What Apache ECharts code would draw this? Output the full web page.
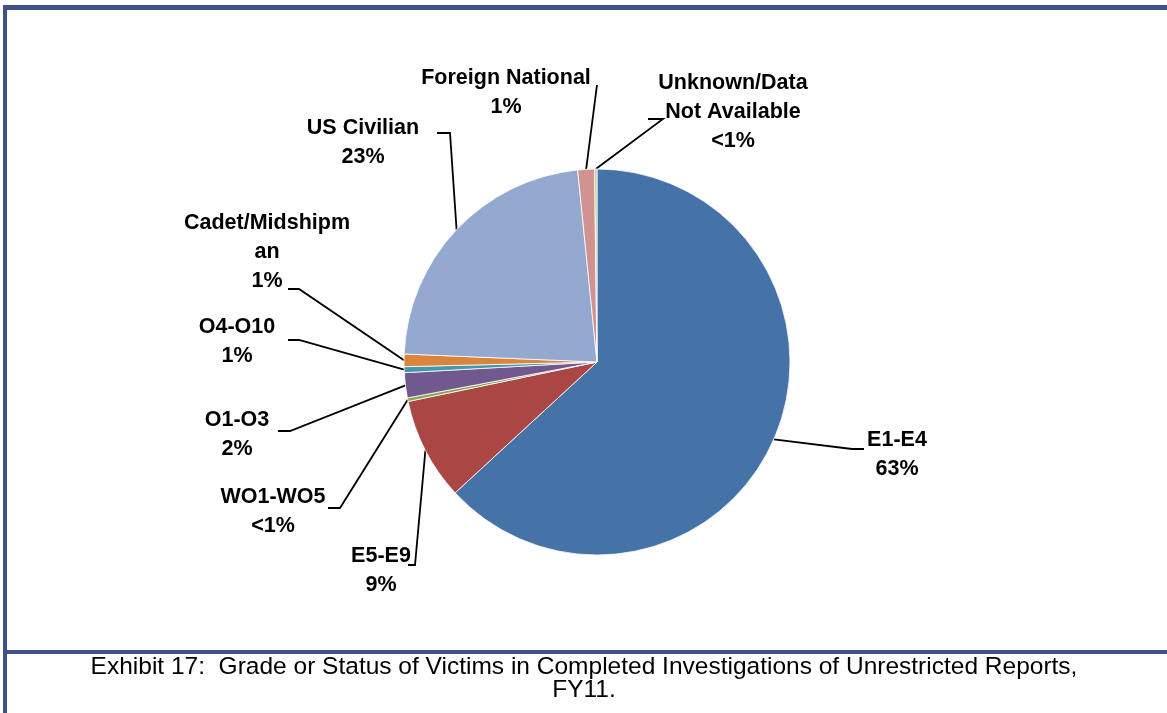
<!DOCTYPE html>
<html>
<head>
<meta charset="utf-8">
<script src="https://cdn.jsdelivr.net/npm/echarts@6/dist/echarts.min.js"></script>
<style>
  html, body { margin: 0; padding: 0; background: #fff; }
  #chart { width: 1167px; height: 713px; }
</style>
</head>
<body>
<div id="chart"></div>
<script>
var categories = ['E1-E4', 'E5-E9', 'WO1-WO5', 'O1-O3', 'O4-O10', 'Cadet/Midshipman', 'US Civilian', 'Foreign National', 'Unknown/Data Not Available'];
var labelNames = ['E1-E4', 'E5-E9', 'WO1-WO5', 'O1-O3', 'O4-O10', 'Cadet/Midshipm\nan', 'US Civilian', 'Foreign National', 'Unknown/Data\nNot Available'];
var shares = [63.3, 8.6, 0.3, 2.1, 0.5, 1.05, 22.8, 1.4, 0.2];
var pctLabels = ['63%', '9%', '<1%', '2%', '1%', '1%', '23%', '1%', '<1%'];
var colors = ['#4572A7', '#AA4643', '#89A54E', '#71588F', '#4198AF', '#DB843D', '#93A9CF', '#D19392', '#B9CD96'];

// label text centre + elbow of the leader line (line ends with a short flat tick)
var labelSpots = [
  { x: 897, y: 455, elbow: [852, 449], end: 864 },
  { x: 381, y: 571, elbow: [415, 565], end: 408 },
  { x: 273, y: 512, elbow: [340, 508], end: 328 },
  { x: 237, y: 435, elbow: [290, 431], end: 278 },
  { x: 237, y: 342, elbow: [299, 340], end: 288 },
  { x: 267, y: 252, elbow: [299, 289], end: 288 },
  { x: 363, y: 143, elbow: [450, 133], end: 437 },
  { x: 506, y: 93, elbow: [597, 85], end: null },
  { x: 733, y: 112, elbow: [663, 119], end: 648 }
];

var caption = 'Exhibit 17:  Grade or Status of Victims in Completed Investigations of Unrestricted Reports,\nFY11.';
var borderColor = '#3F5186';

var chart = echarts.init(document.getElementById('chart'));

var option = {
  animation: false,
  graphic: [
    { type: 'rect', shape: { x: 3, y: 5, width: 4, height: 708 }, style: { fill: borderColor } },
    { type: 'rect', shape: { x: 3, y: 5, width: 1164, height: 5 }, style: { fill: borderColor } },
    { type: 'rect', shape: { x: 3, y: 650, width: 1164, height: 4 }, style: { fill: borderColor } },
    {
      type: 'text', x: 584, y: 656,
      style: {
        text: caption,
        align: 'center',
        verticalAlign: 'top',
        fontFamily: '"Liberation Sans", Arial, sans-serif',
        fontSize: 24.5,
        lineHeight: 23,
        fill: '#000'
      }
    }
  ],
  series: [{
    type: 'pie',
    center: [597, 362],
    radius: 193,
    startAngle: 90,
    clockwise: true,
    avoidLabelOverlap: false,
    data: categories.map(function (c, i) {
      return { name: c, value: shares[i], itemStyle: { color: colors[i] } };
    }),
    itemStyle: { borderColor: '#fff', borderWidth: 0.8 },
    label: {
      show: true,
      position: 'outside',
      formatter: function (p) {
        return labelNames[p.dataIndex] + '\n' + pctLabels[p.dataIndex];
      },
      fontFamily: '"Liberation Sans", Arial, sans-serif',
      fontWeight: 'bold',
      fontSize: 21.5,
      lineHeight: 29,
      color: '#000',
      align: 'center'
    },
    labelLine: {
      show: true,
      lineStyle: { color: '#000', width: 1.8 }
    },
    labelLayout: function (params) {
      var s = labelSpots[params.dataIndex];
      var arc = params.labelLinePoints ? params.labelLinePoints[0] : s.elbow;
      var pts = [arc, s.elbow];
      if (s.end !== null) pts.push([s.end, s.elbow[1]]);
      return {
        x: s.x,
        y: s.y,
        align: 'center',
        verticalAlign: 'middle',
        labelLinePoints: pts
      };
    }
  }]
};

chart.setOption(option);
</script>
</body>
</html>
